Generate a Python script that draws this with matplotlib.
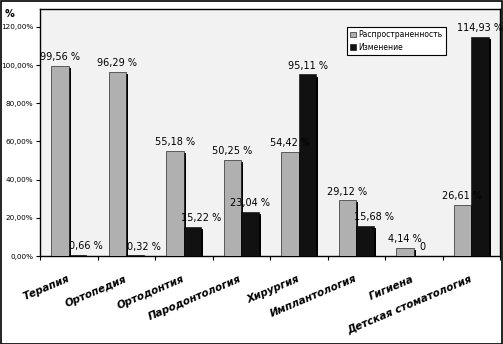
import matplotlib
matplotlib.use("Agg")
import matplotlib.pyplot as plt
import matplotlib.patheffects as pe
import numpy as np

categories = ["Терапия", "Ортопедия", "Ортодонтия", "Пародонтология",
              "Хирургия", "Имплантология", "Гигиена", "Детская стоматология"]
prevalence = [99.56, 96.29, 55.18, 50.25, 54.42, 29.12, 4.14, 26.61]
change = [0.66, 0.32, 15.22, 23.04, 95.11, 15.68, 0, 114.93]
series_names = ["Распространенность", "Изменение"]
yticks = [0, 20, 40, 60, 80, 100, 120]


def fmt(v):
    if v == 0:
        return "0"
    return ("%.2f %%" % v).replace(".", ",")


fig = plt.figure(figsize=(5.03, 3.44), dpi=100)
fig.patch.set_facecolor("white")
ax = fig.add_axes([40 / 503, 88 / 344, 460 / 503, 247 / 344])
ax.set_facecolor("#f2f2f2")

x = np.arange(len(categories))
w = 0.305
shadow = [pe.SimplePatchShadow(offset=(1.5, -1.5), shadow_rgbFace="black", alpha=1.0), pe.Normal()]

ax.bar(x - w / 2, prevalence, w, color="#b0b0b0", edgecolor="black", linewidth=0.4,
       label=series_names[0], path_effects=shadow, zorder=3)
ax.bar(x + w / 2, change, w, color="#111111", edgecolor="black", linewidth=0.4,
       label=series_names[1], path_effects=shadow, zorder=3)

for xi, v in zip(x, prevalence):
    ax.text(xi - w / 2, v + 2, fmt(v), ha="center", va="bottom", fontsize=7, zorder=5)
for xi, v in zip(x, change):
    dx = 0.15 if 0 < v < 20 else 0
    ax.text(xi + w / 2 + dx, v + 2, fmt(v), ha="center", va="bottom", fontsize=7, zorder=5)

ax.set_xlim(-0.5, len(categories) - 0.5)
ax.set_ylim(0, 129.4)
ax.set_yticks(yticks)
ax.set_yticklabels([("%.2f%%" % t).replace(".", ",") for t in yticks], fontsize=5.2)
ax.tick_params(axis="y", length=3, width=0.8, pad=2)

ax.set_xticks(np.arange(len(categories) + 1) - 0.5)
ax.set_xticklabels([])
ax.tick_params(axis="x", length=3, width=0.8)
for xi, name in zip(x, categories):
    ax.annotate(name, xy=(xi, 0), xycoords=("data", "axes fraction"),
                xytext=(0, -16), textcoords="offset points",
                ha="right", va="center", rotation=23, rotation_mode="anchor",
                fontsize=7.5, fontstyle="italic", fontweight="bold")

for s in ax.spines.values():
    s.set_linewidth(1.0)
    s.set_color("black")

leg = ax.legend(loc="upper left", bbox_to_anchor=(303 / 460, 1 - 14 / 247),
                fontsize=5.5, frameon=True, fancybox=False, edgecolor="black",
                handlelength=0.7, handleheight=0.7, handletextpad=0.4,
                borderpad=0.45, labelspacing=0.45)
leg.get_frame().set_linewidth(0.8)
leg.get_frame().set_facecolor("white")
leg.get_frame().set_alpha(1)
for h in leg.legend_handles:
    h.set_path_effects([])

fig.text(5 / 503, 1 - 17 / 344, "%", fontsize=7, fontweight="bold")

fig.add_artist(plt.Rectangle((0.001, 0.001), 0.997, 0.997, transform=fig.transFigure,
                             fill=False, edgecolor="black", linewidth=1.2))

fig.savefig("out.png", dpi=100)
